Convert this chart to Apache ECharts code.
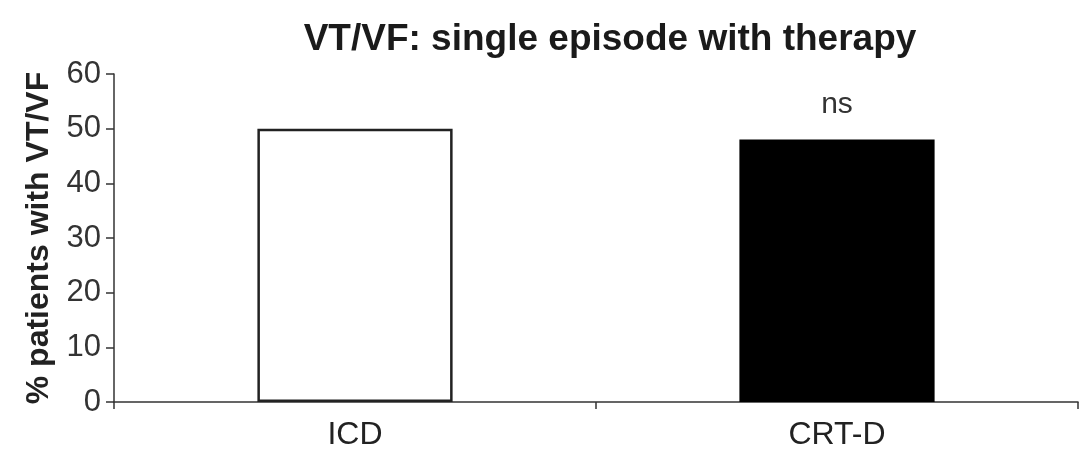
<!DOCTYPE html>
<html><head><meta charset="utf-8">
<script src="https://cdn.jsdelivr.net/npm/echarts@6/dist/echarts.min.js"></script>
<style>html,body{margin:0;padding:0;background:#fff}#c{width:1084px;height:450px}</style>
</head><body><div id="c"></div>
<script>
const categories = ['ICD', 'CRT-D'];
const values = [50, 48];
const barLabels = ['', 'ns'];
const yTicks = [0, 10, 20, 30, 40, 50, 60];

const FONT = '"Liberation Sans", Arial, Helvetica, sans-serif';
const chart = echarts.init(document.getElementById('c'), null, {renderer: 'canvas'});
chart.setOption({
  animation: false,
  backgroundColor: '#fff',
  title: {
    text: 'VT/VF: single episode with therapy',
    left: 605, top: 16, textAlign: 'center',
    textStyle: {fontFamily: FONT, fontWeight: 'bold', fontSize: 37, color: '#1a1a1a'}
  },
  grid: {left: 114, right: 6, top: 74, bottom: 48, containLabel: false, outerBoundsMode: 'none'},
  xAxis: {
    type: 'category', data: categories,
    axisLine: {lineStyle: {color: '#333', width: 1.5}},
    axisTick: {show: true, length: 7, lineStyle: {color: '#333', width: 1.5}},
    axisLabel: {fontFamily: FONT, fontSize: 32, color: '#222', margin: 17}
  },
  yAxis: {
    type: 'value', min: yTicks[0], max: yTicks[yTicks.length - 1], interval: 10,
    name: '% patients with VT/VF', nameLocation: 'middle', nameGap: 58, nameRotate: 90,
    nameTextStyle: {fontFamily: FONT, fontWeight: 'bold', fontSize: 32, color: '#222'},
    splitLine: {show: false},
    axisLine: {show: true, lineStyle: {color: '#333', width: 1.5}},
    axisTick: {show: true, length: 8, lineStyle: {color: '#333', width: 1.5}},
    axisLabel: {fontFamily: FONT, fontSize: 31, color: '#333', margin: 13}
  },
  series: [{
    type: 'bar', barWidth: '40.5%',
    data: values.map((v, i) => ({
      value: v,
      itemStyle: i === 0
        ? {color: '#fff', borderColor: '#222', borderWidth: 2.5}
        : {color: '#000', borderColor: '#000', borderWidth: 0},
      label: {show: barLabels[i] !== '', formatter: barLabels[i], position: 'top', distance: 20,
        fontFamily: FONT, fontSize: 30, color: '#333'}
    }))
  }]
});
</script></body></html>
